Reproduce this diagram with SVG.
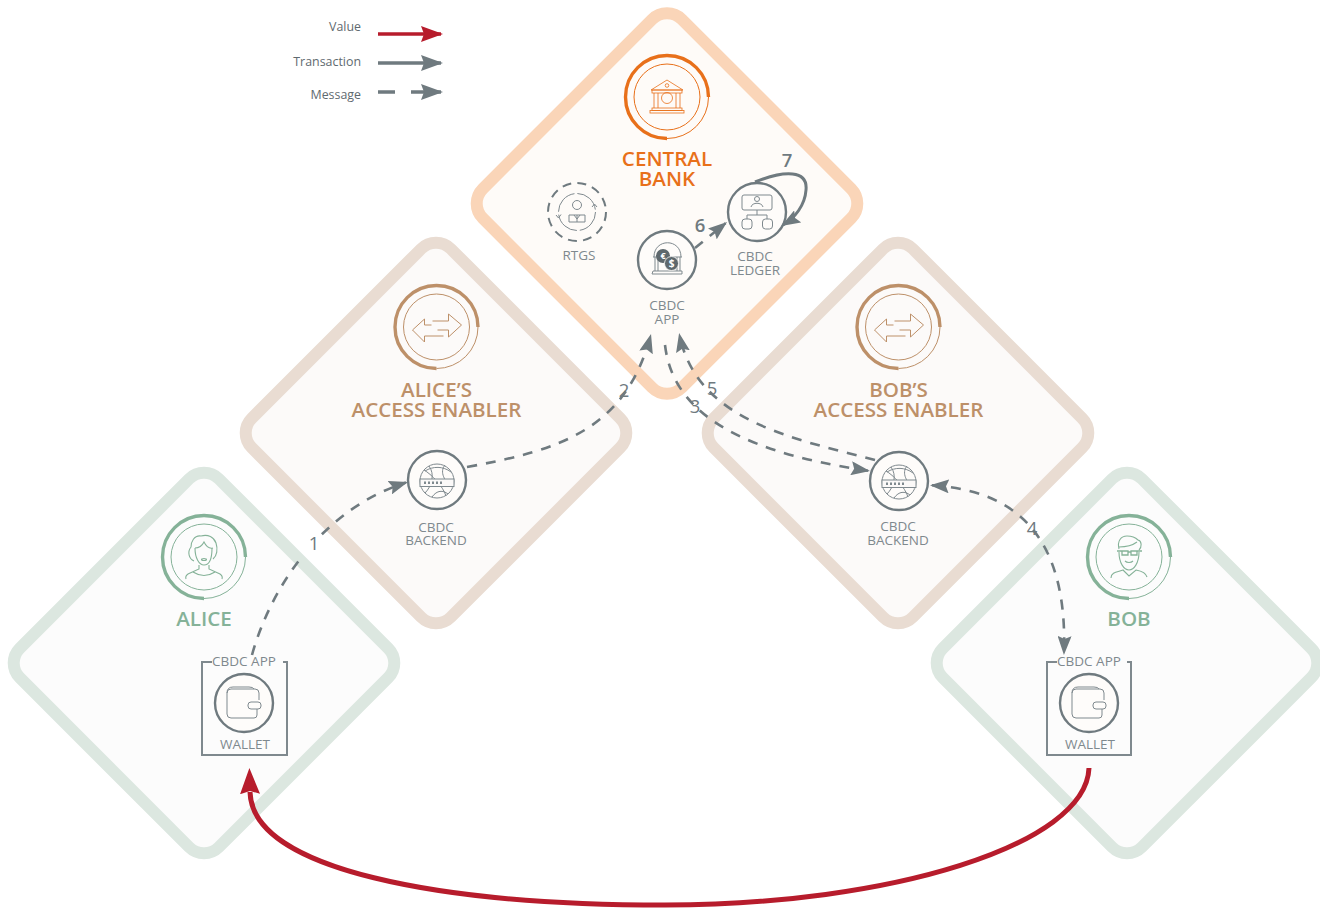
<svg xmlns="http://www.w3.org/2000/svg" width="1320" height="909" viewBox="0 0 1320 909">
<style>
text{font-family:"Open Sans","Noto Sans","Liberation Sans",sans-serif;text-anchor:middle}
.zone{stroke-width:12}
.cb{fill:#fefbf8;stroke:#fad5b8}
.ae{fill:#fcfaf9;stroke:#e9dcd2}
.us{fill:#fcfcfc;stroke:#dce7e0}
.t{font-size:20.600px;font-weight:600}
.l{font-size:13.500px;fill:#7f898e}
.n{font-size:18.500px;font-weight:500;fill:#6f7a7f}
.n2{font-size:18.500px;font-weight:600;fill:#6f7a7f}
.leg{font-size:12.400px;fill:#5f6a70;text-anchor:end}
.ic{fill:none;stroke:#7f898e;stroke-width:1}
.circ{fill:#fefcfa;stroke:#6f7a7f;stroke-width:2.400}
.msg{fill:none;stroke:#6f7a7f;stroke-width:2.600;stroke-dasharray:10 9}
.tx{fill:none;stroke:#6f7a7f;stroke-width:3}
.val{fill:none;stroke:#b71c2c;stroke-width:5}
.orange{color:#e8701a;fill:#e8701a}
.brown{color:#bd9069;fill:#bd9069}
.green{color:#85b298;fill:#85b298}
</style>
<defs>
<marker id="ag" viewBox="0 0 19 14" refX="17" refY="7" markerWidth="19" markerHeight="14" markerUnits="userSpaceOnUse" orient="auto-start-reverse"><path d="M0 0L19 7L0 14L3 7Z" fill="#6f7a7f"/></marker>
<marker id="ar" viewBox="0 0 22 16" refX="20" refY="8" markerWidth="22" markerHeight="16" markerUnits="userSpaceOnUse" orient="auto"><path d="M0 0L22 8L0 16L3 8Z" fill="#b71c2c"/></marker>
<marker id="ag2" viewBox="0 0 22 16" refX="20" refY="8" markerWidth="22" markerHeight="16" markerUnits="userSpaceOnUse" orient="auto"><path d="M0 0L22 8L0 16L3 8Z" fill="#6f7a7f"/></marker>
<marker id="arb" viewBox="0 0 26 20" refX="2" refY="10" markerWidth="26" markerHeight="20" markerUnits="userSpaceOnUse" orient="auto"><path d="M0 0L26 10L0 20L3 10Z" fill="#b71c2c"/></marker>
<rect id="dia" x="-140.700" y="-140.700" width="281.400" height="281.400" rx="21" class="zone"/>
<g id="ring" fill="none" stroke="currentColor">
<path d="M0 41.500A41.500 41.500 0 1 1 41.500 0" stroke-width="3.400"/>
<path d="M41.500 0A41.500 41.500 0 0 1 0 41.500" stroke-width="1"/>
<circle r="33" stroke-width="1"/>
</g>
<g id="ae-icon" fill="none" stroke="currentColor" stroke-width="1">
<path d="M-5-2H-12V-8L-24 3L-12 15V9H7"/>
<path d="M-4-6H12V-13L25-2L12 10V3H1"/>
</g>
<g id="backend-icon" class="ic">
<circle cy="1" r="17"/>
<path d="M-13-10C-6-6 6 6 9 16M-8-14C-2-6-5 6-12 13M8-15C2-8 8 2 15 7M-12-9C-4-14 6-14 14-8M-5 17C0 10 6 10 11 14"/>
<rect x="-17" y="-1" width="34" height="7.500" fill="#fbf9f8"/>
<path d="M-13 2.700H7" stroke-width="2.400" stroke-dasharray="2 2"/>
</g>
<g id="wallet-icon" class="ic" stroke-width="1.300">
<path d="M15-3V-10Q15-14 11-14H-13Q-17-14-17-10V11Q-17 15-13 15H10Q13 15 13 12V6"/>
<path d="M-17-10Q-17-16-11-16H5Q9-16 10-14"/>
<rect x="4" y="-1" width="13" height="7" rx="3"/>
</g>
</defs>

<g id="zone-central"><use href="#dia" class="cb" transform="translate(667 203.500) rotate(45)"/></g>
<g id="zone-alice-ae"><use href="#dia" class="ae" transform="translate(436 433) rotate(45)"/></g>
<g id="zone-bob-ae"><use href="#dia" class="ae" transform="translate(898 433) rotate(45)"/></g>
<g id="zone-alice"><use href="#dia" class="us" transform="translate(204 663) rotate(45)"/></g>
<g id="zone-bob"><use href="#dia" class="us" transform="translate(1127 663) rotate(45)"/></g>

<g id="central-bank" class="orange">
<use href="#ring" x="667" y="97"/>
<g transform="translate(667 97)" fill="none" stroke="currentColor" stroke-width="0.800">
<path d="M0-17L16-7H-16Z"/><circle cy="-11.500" r="1.800"/><rect x="-15" y="-7" width="30" height="3"/>
<path d="M-13-4V11M-9-4V11M9-4V11M13-4V11"/><circle cy="1" r="5.500"/>
<rect x="-15" y="11" width="30" height="2.500"/><rect x="-17" y="13.500" width="34" height="2.500"/>
</g>
<text class="t" x="667" y="166">CENTRAL</text>
<text class="t" x="667" y="186">BANK</text>
</g>
<g id="alice-ae" class="brown">
<use href="#ring" x="436.500" y="327"/><use href="#ae-icon" x="436.500" y="327"/>
<text class="t" x="436.500" y="397">ALICE’S</text>
<text class="t" x="436.500" y="417">ACCESS ENABLER</text>
</g>
<g id="bob-ae" class="brown">
<use href="#ring" x="898.500" y="327"/><use href="#ae-icon" x="898.500" y="327"/>
<text class="t" x="898.500" y="397">BOB’S</text>
<text class="t" x="898.500" y="417">ACCESS ENABLER</text>
</g>
<g id="alice" class="green">
<use href="#ring" x="204" y="557"/>
<g transform="translate(204 557)" fill="none" stroke="currentColor" stroke-width="1.100">
<path d="M-3-21C-10-22-13-15-13-10C-17-5-15 2-10 4M-3-21C4-23 10-20 12-14C14-8 13-1 9 2"/>
<path d="M-9-9C-5-9-2-11 0-15C2-11 5-8 9-9M-9-9C-9 1-5 8 0 8C5 8 8 2 8-9"/>
<ellipse cy="2.500" rx="2.500" ry="1"/>
<path d="M-5 8V12L-16 17Q-19 19-18 22M18 22Q19 19 16 17L5 12V8M-11 15Q0 22 11 15"/>
</g>
<text class="t" x="204" y="626">ALICE</text>
</g>
<g id="bob" class="green">
<use href="#ring" x="1129" y="557"/>
<g transform="translate(1129 557)" fill="none" stroke="currentColor" stroke-width="1.100">
<path d="M-10-8C-12-16-8-21-2-21C4-21 7-19 9-17C13-16 13-10 10-7M-10-10C-4-10 4-12 8-15"/>
<path d="M-10-5C-10 6-5 13 0 13C5 13 10 6 10-5"/>
<path d="M-7-6H-1V-2H-7ZM2-6H8V-2H2ZM-1-5H2M-12-6H-7M8-6H13" stroke-width="1.300"/>
<path d="M-4 4C-2 6 2 6 4 4"/>
<path d="M-18 21C-18 15-11 15-6 13L0 19L7 13C12 14 17 16 18 20"/>
</g>
<text class="t" x="1129" y="626">BOB</text>
</g>

<g id="rtgs">
<circle cx="577" cy="212" r="29" fill="none" stroke="#6f7a7f" stroke-width="2" stroke-dasharray="9 6.200"/>
<g transform="translate(577 212)" class="ic">
<circle r="18.500" stroke-dasharray="26 3 26 3"/>
<circle cy="-7" r="4.500"/><path d="M-8 10V3H8V10ZM0 3V10M-3 3L0 7L3 3"/>
<path d="M-21 3L-18.500 6L-16 2.500M15-5L17.500-8L20-5"/>
</g>
<text class="l" x="579" y="260">RTGS</text>
</g>
<g id="cbdc-ledger">
<circle class="circ" cx="757" cy="212" r="29"/>
<g transform="translate(757 212)" class="ic">
<rect x="-15" y="-17" width="30" height="15" rx="2"/><circle cy="-13" r="2.500"/>
<path d="M-6-5C-5-10 5-10 6-5M0-2V3M-10 7V3H10V7"/>
<rect x="-15" y="7" width="10" height="10" rx="3"/><rect x="5.500" y="7" width="10" height="10" rx="3"/>
</g>
<text class="l" x="755" y="261">CBDC</text><text class="l" x="755" y="275">LEDGER</text>
</g>
<g id="cbdc-app">
<circle class="circ" cx="667" cy="260" r="29"/>
<g transform="translate(667 260)" class="ic">
<path d="M-13-3C-13-22 14-22 14-3M-14-3H15M-12-3V11M-9-3V11M10-3V11M13-3V11M-14 11H15V14H-15Z"/>
<circle cx="-4" cy="-4" r="7" fill="#5e686d" stroke="none"/>
<circle cx="4.500" cy="3.500" r="7" fill="#5e686d" stroke="#fefcfa" stroke-width="0.800"/>
<text x="-4" y="-1" font-size="9" font-weight="700" fill="#fff" stroke="none">€</text>
<text x="4.500" y="7" font-size="10" font-weight="700" fill="#fff" stroke="none">$</text>
</g>
<text class="l" x="667" y="310">CBDC</text><text class="l" x="667" y="324">APP</text>
</g>
<g id="alice-backend">
<circle class="circ" cx="437" cy="480" r="29"/><use href="#backend-icon" x="437" y="480"/>
<text class="l" x="436" y="532">CBDC</text><text class="l" x="436" y="545">BACKEND</text>
</g>
<g id="bob-backend">
<circle class="circ" cx="899" cy="481" r="29"/><use href="#backend-icon" x="899" y="481"/>
<text class="l" x="898" y="531">CBDC</text><text class="l" x="898" y="545">BACKEND</text>
</g>
<g id="alice-wallet">
<path d="M212 662H202V755H287V662H283" fill="none" stroke="#7f898e" stroke-width="2"/>
<text class="l" x="244" y="666">CBDC APP</text>
<circle class="circ" cx="244" cy="703" r="29"/><use href="#wallet-icon" x="244" y="703"/>
<text class="l" x="245" y="749">WALLET</text>
</g>
<g id="bob-wallet">
<path d="M1057 662H1047V755H1131V662H1127" fill="none" stroke="#7f898e" stroke-width="2"/>
<text class="l" x="1089" y="666">CBDC APP</text>
<circle class="circ" cx="1089" cy="703" r="29"/><use href="#wallet-icon" x="1089" y="703"/>
<text class="l" x="1090" y="749">WALLET</text>
</g>

<g id="connectors">
<path class="msg" style="stroke-dasharray:10 9 10 9 10 9 10 9 10 9 10 36 10 9 10 9 10 9 10 9 10 9 10 9 10 9 10 9" d="M252 655C270 590 320 510 406 482.500" marker-end="url(#ag)"/>
<path class="msg" d="M467 467C560 450 625 430 650.500 336" marker-end="url(#ag)"/>
<path class="msg" d="M665 345C672 405 725 450 868 470.700" marker-end="url(#ag)"/>
<path class="msg" d="M875 460C790 438 697 420 679.500 335" marker-end="url(#ag)"/>
<path class="msg" d="M932 485.300C1010 490 1068 530 1064 653" marker-start="url(#ag)" marker-end="url(#ag)"/>
<path class="msg" d="M695 248L725.500 223.200" marker-end="url(#ag)"/>
<path class="tx" d="M755 182C785 170 808 170 806 190C805 205 795 218 783 225" marker-end="url(#ag)"/>
<path class="val" d="M1089 768C1086 845 890 905 665 905C440 905 252 870 250 792" marker-end="url(#arb)"/>
</g>
<g id="numbers">
<text class="n" x="314" y="550">1</text><text class="n" x="624" y="397">2</text><text class="n" x="695" y="413">3</text><text class="n" x="1032" y="535">4</text><text class="n" x="712" y="395">5</text><text class="n2" x="700" y="232">6</text><text class="n2" x="787" y="167">7</text>
</g>
<g id="legend">
<text class="leg" x="361" y="31">Value</text><text class="leg" x="361" y="66">Transaction</text><text class="leg" x="361" y="99">Message</text>
<path d="M378 34H441" stroke="#b71c2c" stroke-width="3.400" fill="none" marker-end="url(#ar)"/>
<path d="M378 63H441" stroke="#6f7a7f" stroke-width="3.400" fill="none" marker-end="url(#ag2)"/>
<path d="M378 92H395M411 92H441" stroke="#6f7a7f" stroke-width="3.400" fill="none" marker-end="url(#ag2)"/>
</g>
</svg>
